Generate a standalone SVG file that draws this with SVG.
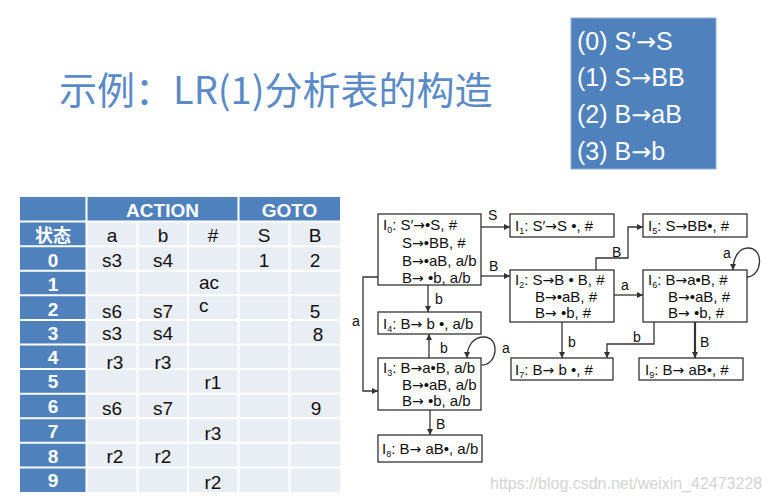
<svg xmlns="http://www.w3.org/2000/svg" width="772" height="501" viewBox="0 0 772 501">
<style>
.t{font-family:"Liberation Sans",Arial,sans-serif;font-size:19px;fill:#111}
.th{font-family:"Liberation Sans",Arial,sans-serif;font-size:19px;font-weight:bold;fill:#fff}
.tc{text-anchor:middle}
.g{font-family:"Liberation Sans",Arial,sans-serif;font-size:15px;fill:#111}
.lb{font-family:"Liberation Sans",Arial,sans-serif;font-size:14px;fill:#111}
.box{fill:#fff;stroke:#333;stroke-width:1.3}
.e{fill:none;stroke:#333;stroke-width:1.3;marker-end:url(#ah)}
.gl{stroke:#fff;stroke-width:2}
.bl{font-family:"Liberation Sans",Arial,sans-serif;font-size:25px;fill:#fff}
.ar{font-family:"DejaVu Sans",sans-serif;font-size:14px}
.ab{font-family:"DejaVu Sans",sans-serif;font-size:24px}
</style>
<defs>
<marker id="ah" viewBox="0 0 8 8" refX="8" refY="4" markerWidth="6" markerHeight="6" markerUnits="userSpaceOnUse" orient="auto">
<path d="M0,0 L8,4 L0,8 z" fill="#333"/>
</marker>
</defs>
<rect width="772" height="501" fill="#fff"/>
<text x="59" y="104" style="font-family:'Noto Sans CJK SC','Liberation Sans',sans-serif;font-size:38px;fill:#5a8bc8">示例：LR(1)分析表的构造</text>
<g id="grammar">
<rect x="571" y="18" width="145" height="151" fill="#4f81bd" stroke="#8fb0d9" stroke-width="1"/>
<text class="bl" x="577" y="50">(0) S′<tspan class="ab">→</tspan>S</text>
<text class="bl" x="577" y="86">(1) S<tspan class="ab">→</tspan>BB</text>
<text class="bl" x="577" y="123">(2) B<tspan class="ab">→</tspan>aB</text>
<text class="bl" x="577" y="160">(3) B<tspan class="ab">→</tspan>b</text>
</g>
<g id="table">
<rect x="20" y="197" width="320" height="295" fill="#e9edf4"/>
<rect x="20" y="197" width="320" height="24.6" fill="#4f81bd"/>
<rect x="20" y="197" width="66.5" height="295" fill="#4f81bd"/>
<g class="gl">
<line x1="86.5" y1="197" x2="86.5" y2="492"/>
<line x1="238.5" y1="197" x2="238.5" y2="492"/>
<line x1="137.5" y1="221.6" x2="137.5" y2="492"/>
<line x1="188" y1="221.6" x2="188" y2="492"/>
<line x1="289.5" y1="221.6" x2="289.5" y2="492"/>
<line x1="20" y1="221.6" x2="340" y2="221.6"/>
<line x1="20" y1="246.2" x2="340" y2="246.2"/>
<line x1="20" y1="270.7" x2="340" y2="270.7"/>
<line x1="20" y1="295.3" x2="340" y2="295.3"/>
<line x1="20" y1="319.9" x2="340" y2="319.9"/>
<line x1="20" y1="344.5" x2="340" y2="344.5"/>
<line x1="20" y1="369.1" x2="340" y2="369.1"/>
<line x1="20" y1="393.7" x2="340" y2="393.7"/>
<line x1="20" y1="418.2" x2="340" y2="418.2"/>
<line x1="20" y1="442.8" x2="340" y2="442.8"/>
<line x1="20" y1="467.4" x2="340" y2="467.4"/>
</g>
<text class="th tc" x="162.5" y="217">ACTION</text>
<text class="th tc" x="289.5" y="217">GOTO</text>
<text class="tc" x="53" y="242" style="font-family:'Noto Sans CJK SC',sans-serif;font-size:18px;font-weight:bold;fill:#fff">状态</text>
<text class="t tc" x="112" y="242">a</text>
<text class="t tc" x="163" y="242">b</text>
<text class="t tc" x="213" y="242">#</text>
<text class="t tc" x="264" y="242">S</text>
<text class="t tc" x="315" y="242">B</text>
<g class="th tc">
<text x="53" y="267">0</text>
<text x="53" y="291">1</text>
<text x="53" y="316">2</text>
<text x="53" y="340">3</text>
<text x="53" y="364">4</text>
<text x="53" y="388">5</text>
<text x="53" y="413">6</text>
<text x="53" y="438">7</text>
<text x="53" y="463">8</text>
<text x="53" y="487">9</text>
</g>
<g class="t tc">
<text x="112" y="267">s3</text><text x="163" y="267">s4</text><text x="264" y="267">1</text><text x="315" y="267">2</text>
<text x="112" y="318">s6</text><text x="163" y="318">s7</text><text x="315" y="318">5</text>
<text x="112" y="340">s3</text><text x="163" y="340">s4</text><text x="318" y="341">8</text>
<text x="115" y="369">r3</text><text x="163" y="369">r3</text>
<text x="213" y="389">r1</text>
<text x="112" y="415">s6</text><text x="163" y="415">s7</text><text x="316" y="415">9</text>
<text x="213" y="440">r3</text>
<text x="115" y="463">r2</text><text x="163" y="463">r2</text>
<text x="213" y="489">r2</text>
</g>
<text class="t" x="199" y="289">ac</text>
<text class="t" x="199" y="312">c</text>
</g>
<g id="I0"><rect class="box" x="378" y="214" width="103" height="71"/>
<text class="g" x="383" y="230">I<tspan font-size="9" dy="3">0</tspan><tspan dy="-3">: S′<tspan class="ar">→</tspan>•S, #</tspan></text>
<text class="g" x="402" y="248">S<tspan class="ar">→</tspan>•BB, #</text>
<text class="g" x="402" y="266">B<tspan class="ar">→</tspan>•aB, a/b</text>
<text class="g" x="402" y="283">B<tspan class="ar">→</tspan> •b, a/b</text></g>
<g id="I1"><rect class="box" x="510" y="214" width="104" height="23"/>
<text class="g" x="515" y="231">I<tspan font-size="9" dy="3">1</tspan><tspan dy="-3">: S′<tspan class="ar">→</tspan>S •, #</tspan></text></g>
<g id="I5"><rect class="box" x="643" y="214" width="104" height="23"/>
<text class="g" x="648" y="231">I<tspan font-size="9" dy="3">5</tspan><tspan dy="-3">: S<tspan class="ar">→</tspan>BB•, #</tspan></text></g>
<g id="I2"><rect class="box" x="510" y="270" width="104" height="52"/>
<text class="g" x="515" y="285">I<tspan font-size="9" dy="3">2</tspan><tspan dy="-3">: S<tspan class="ar">→</tspan>B • B, #</tspan></text>
<text class="g" x="535" y="302">B<tspan class="ar">→</tspan>•aB, #</text>
<text class="g" x="535" y="318">B<tspan class="ar">→</tspan> •b, #</text></g>
<g id="I6"><rect class="box" x="643" y="270" width="104" height="52"/>
<text class="g" x="648" y="285">I<tspan font-size="9" dy="3">6</tspan><tspan dy="-3">: B<tspan class="ar">→</tspan>a•B, #</tspan></text>
<text class="g" x="668" y="302">B<tspan class="ar">→</tspan>•aB, #</text>
<text class="g" x="668" y="318">B<tspan class="ar">→</tspan> •b, #</text></g>
<g id="I4"><rect class="box" x="378" y="312" width="103" height="22"/>
<text class="g" x="383" y="329">I<tspan font-size="9" dy="3">4</tspan><tspan dy="-3">: B<tspan class="ar">→</tspan> b •, a/b</tspan></text></g>
<g id="I3"><rect class="box" x="378" y="358" width="103" height="52"/>
<text class="g" x="383" y="373">I<tspan font-size="9" dy="3">3</tspan><tspan dy="-3">: B<tspan class="ar">→</tspan>a•B, a/b</tspan></text>
<text class="g" x="402" y="390">B<tspan class="ar">→</tspan>•aB, a/b</text>
<text class="g" x="402" y="406">B<tspan class="ar">→</tspan> •b, a/b</text></g>
<g id="I8"><rect class="box" x="378" y="435" width="104" height="27"/>
<text class="g" x="382" y="454">I<tspan font-size="9" dy="3">8</tspan><tspan dy="-3">: B<tspan class="ar">→</tspan> aB•, a/b</tspan></text></g>
<g id="I7"><rect class="box" x="511" y="358" width="102" height="22"/>
<text class="g" x="515" y="375">I<tspan font-size="9" dy="3">7</tspan><tspan dy="-3">: B<tspan class="ar">→</tspan> b •, #</tspan></text></g>
<g id="I9"><rect class="box" x="639" y="358" width="104" height="22"/>
<text class="g" x="645" y="375">I<tspan font-size="9" dy="3">9</tspan><tspan dy="-3">: B<tspan class="ar">→</tspan> aB•, #</tspan></text></g>
<g id="connectors">
<path class="e" d="M481,227 H510"/>
<path class="e" d="M481,276 H510"/>
<path class="e" d="M428,285 V312"/>
<path class="e" d="M378,277 H363 V391 H378"/>
<path class="e" d="M429,358 V334"/>
<path class="e" d="M482,365 C498,365 500,337 484,337 C474,337 467,345 467,358"/>
<path class="e" d="M430,410 V435"/>
<path class="e" d="M596,270 V258 H628 V227 H643"/>
<path class="e" d="M614,295 H643"/>
<path class="e" d="M747,277 C762,277 765,248 748,248 C740,248 733,256 733,270"/>
<path class="e" d="M562,322 V358"/>
<path class="e" d="M654,322 V344 H607 V358"/>
<path class="e" d="M695,322 V358" style="stroke-width:2.2"/>
<text class="lb" x="488" y="220">S</text>
<text class="lb" x="489" y="271">B</text>
<text class="lb" x="435" y="304">b</text>
<text class="lb" x="352" y="326">a</text>
<text class="lb" x="440" y="353">b</text>
<text class="lb" x="502" y="353">a</text>
<text class="lb" x="436" y="429">B</text>
<text class="lb" x="612" y="257">B</text>
<text class="lb" x="621" y="290">a</text>
<text class="lb" x="723" y="258">a</text>
<text class="lb" x="568" y="347">b</text>
<text class="lb" x="633" y="342">b</text>
<text class="lb" x="700" y="347">B</text>
</g>
<text x="490" y="489" style="font-family:'Liberation Sans',Arial,sans-serif;font-size:16px;fill:#d4d4d4">https://blog.csdn.net/weixin_42473228</text>
</svg>
